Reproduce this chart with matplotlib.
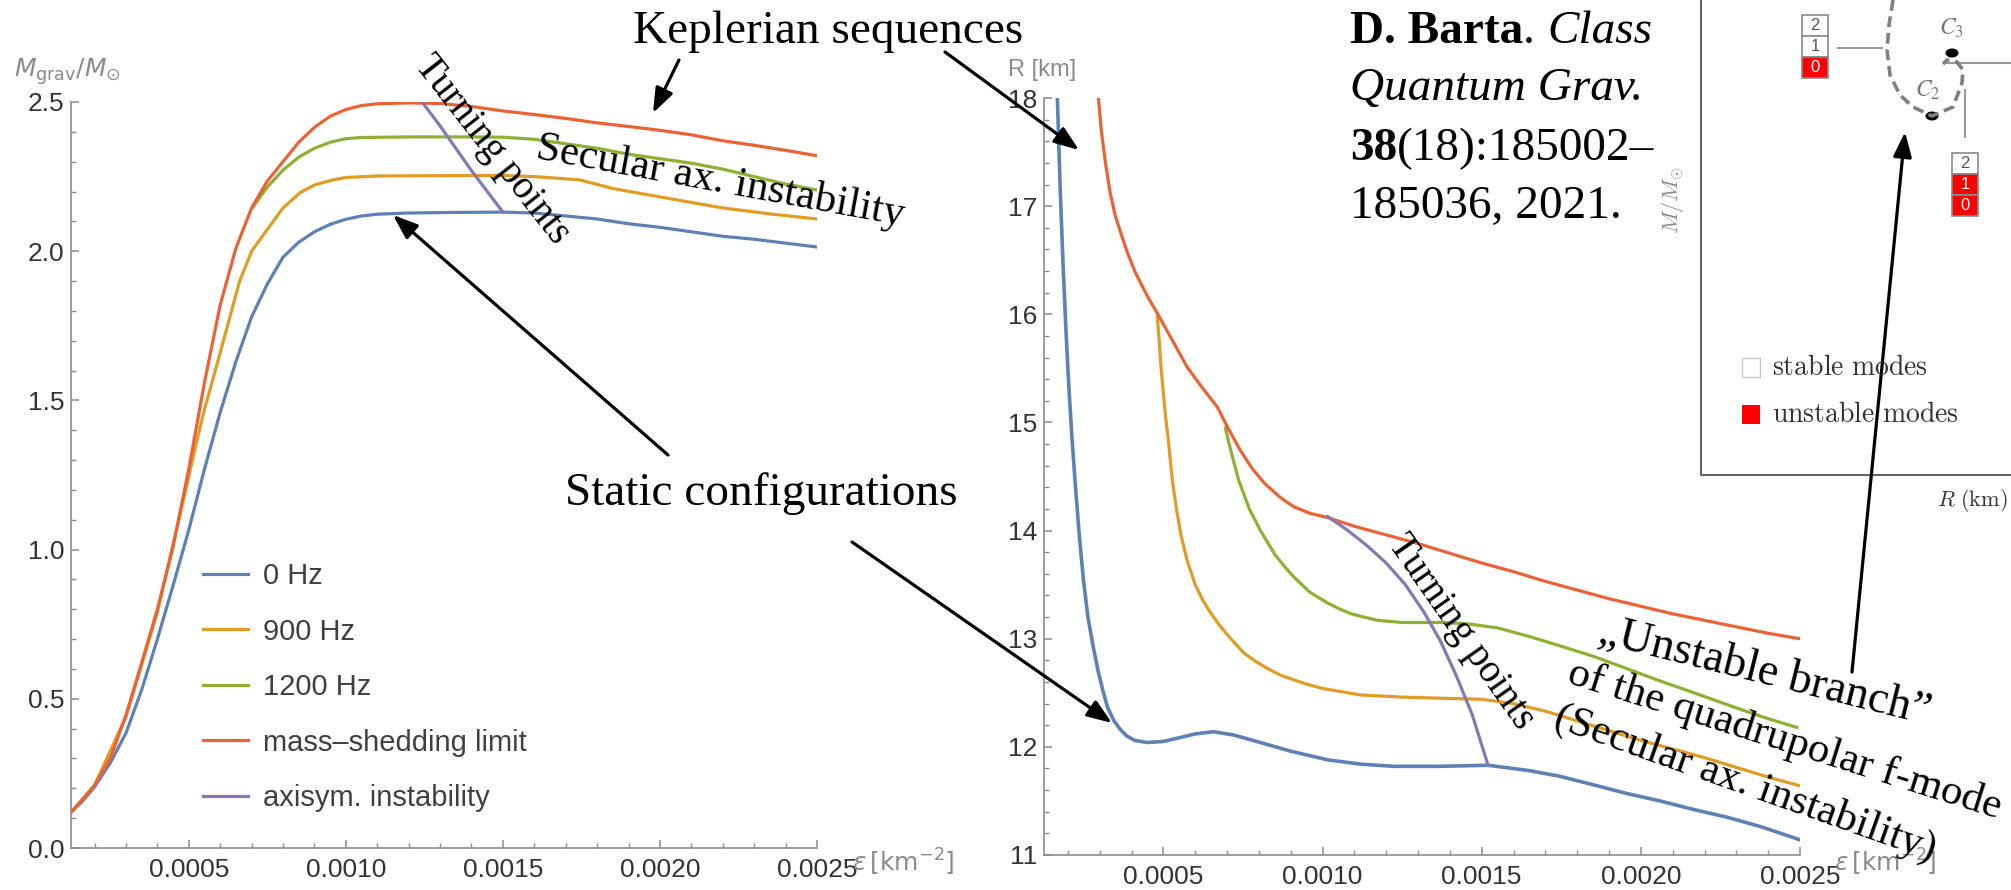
import numpy as np
import matplotlib.pyplot as plt
from matplotlib.ticker import MultipleLocator, FormatStrFormatter
from matplotlib.patches import Rectangle, Ellipse

plt.rcParams['font.family'] = ['Liberation Sans', 'DejaVu Sans']

### data (epsilon in 1e-3 km^-2)

# left panel : M_grav / M_sun
eps_m_0 = [0.125, 0.16, 0.20, 0.25, 0.30, 0.35, 0.40, 0.45, 0.50, 0.55, 0.60, 0.65, 0.70, 0.75,
           0.80, 0.85, 0.90, 0.95, 1.00, 1.05, 1.10, 1.20, 1.35, 1.50, 1.60, 1.70, 1.80, 1.90,
           2.00, 2.10, 2.20, 2.30, 2.40, 2.50]
m_0 = [0.12, 0.155, 0.205, 0.285, 0.385, 0.53, 0.70, 0.88, 1.066, 1.27, 1.46, 1.63, 1.78, 1.89,
       1.98, 2.03, 2.065, 2.09, 2.107, 2.118, 2.124, 2.128, 2.13, 2.131, 2.128, 2.118, 2.108, 2.092,
       2.08, 2.065, 2.05, 2.04, 2.027, 2.014]

eps_m_900 = [0.125, 0.20, 0.30, 0.40, 0.50, 0.52, 0.55, 0.576, 0.60, 0.662, 0.70, 0.748, 0.80,
             0.853, 0.90, 0.959, 1.00, 1.10, 1.30, 1.50, 1.60, 1.745, 1.85, 2.064, 2.20, 2.35, 2.50]
m_900 = [0.12, 0.21, 0.44, 0.79, 1.245, 1.34, 1.47, 1.568, 1.66, 1.90, 2.0, 2.07, 2.145,
         2.195, 2.222, 2.239, 2.247, 2.252, 2.253, 2.254, 2.25, 2.239, 2.21, 2.17, 2.145, 2.125, 2.108]

eps_m_1200 = [0.704, 0.75, 0.80, 0.85, 0.90, 0.95, 1.00, 1.05, 1.20, 1.40, 1.50, 1.60, 1.70, 1.80,
              1.90, 2.00, 2.10, 2.20, 2.30, 2.40, 2.50]
m_1200 = [2.148, 2.215, 2.272, 2.315, 2.345, 2.365, 2.377, 2.381, 2.383, 2.383, 2.382, 2.375, 2.36,
          2.345, 2.325, 2.31, 2.295, 2.275, 2.25, 2.225, 2.205]

eps_m_kep = [0.125, 0.16, 0.20, 0.25, 0.30, 0.35, 0.40, 0.45, 0.50, 0.55, 0.60, 0.65, 0.70, 0.75,
             0.80, 0.85, 0.90, 0.95, 1.00, 1.05, 1.10, 1.20, 1.30, 1.40, 1.50, 1.60, 1.70, 1.80,
             1.90, 2.00, 2.10, 2.20, 2.30, 2.40, 2.50]
m_kep = [0.12, 0.16, 0.21, 0.30, 0.445, 0.62, 0.80, 1.01, 1.27, 1.56, 1.82, 2.01, 2.145, 2.235,
         2.30, 2.365, 2.415, 2.452, 2.475, 2.488, 2.494, 2.497, 2.495, 2.485, 2.47, 2.458, 2.445, 2.43,
         2.418, 2.405, 2.39, 2.37, 2.355, 2.338, 2.32]

eps_m_turn = [1.245, 1.30, 1.40, 1.50]
m_turn = [2.497, 2.42, 2.27, 2.131]

# right panel : R [km]
eps_r_0 = [0.167, 0.176, 0.185, 0.194, 0.203, 0.213, 0.224, 0.236, 0.249, 0.263, 0.28, 0.295, 0.31,
           0.324, 0.345, 0.365, 0.385, 0.41, 0.45, 0.50, 0.544, 0.60, 0.657, 0.72, 0.805, 0.90,
           1.016, 1.12, 1.223, 1.37, 1.52, 1.65, 1.742, 1.85, 1.954, 2.06, 2.167, 2.27, 2.379,
           2.45, 2.50]
r_0 = [18.0, 17.15, 16.45, 15.85, 15.33, 14.85, 14.40, 13.95, 13.54, 13.2, 12.92, 12.70, 12.52,
       12.37, 12.24, 12.16, 12.10, 12.06, 12.04, 12.05, 12.08, 12.12, 12.14, 12.11, 12.04, 11.96,
       11.88, 11.84, 11.82, 11.82, 11.83, 11.78, 11.73, 11.65, 11.57, 11.50, 11.42, 11.35, 11.26,
       11.19, 11.14]

eps_r_900 = [0.481, 0.487, 0.493, 0.50, 0.507, 0.515, 0.528, 0.54, 0.555, 0.575, 0.60, 0.625,
             0.648, 0.675, 0.70, 0.752, 0.79, 0.83, 0.87, 0.91, 0.95, 1.00, 1.12, 1.25, 1.37, 1.50,
             1.60, 1.70, 1.80, 1.90, 2.0, 2.1, 2.2, 2.3, 2.4, 2.5]
r_900 = [15.98, 15.75, 15.5, 15.27, 15.05, 14.85, 14.47, 14.22, 13.96, 13.72, 13.50, 13.35,
         13.24, 13.13, 13.04, 12.87, 12.79, 12.72, 12.66, 12.62, 12.58, 12.54, 12.48, 12.46, 12.45,
         12.44, 12.40, 12.33, 12.24, 12.15, 12.06, 11.98, 11.90, 11.81, 11.72, 11.64]

eps_r_1200 = [0.695, 0.705, 0.72, 0.736, 0.755, 0.77, 0.805, 0.85, 0.88, 0.91, 0.96, 1.016, 1.05,
              1.09, 1.13, 1.173, 1.25, 1.37, 1.45, 1.55, 1.65, 1.75, 1.848, 1.95, 2.05, 2.167, 2.30,
              2.40, 2.49]
r_1200 = [14.95, 14.82, 14.65, 14.47, 14.32, 14.2, 14.0, 13.78, 13.67, 13.57, 13.43, 13.33, 13.28,
          13.23, 13.20, 13.17, 13.15, 13.15, 13.14, 13.10, 13.02, 12.93, 12.84, 12.73, 12.62, 12.50,
          12.36, 12.26, 12.18]

eps_r_kep = [0.296, 0.305, 0.318, 0.333, 0.35, 0.37, 0.387, 0.41, 0.43, 0.455, 0.481, 0.53, 0.575,
             0.62, 0.67, 0.701, 0.74, 0.78, 0.82, 0.87, 0.91, 0.96, 1.016, 1.10, 1.20, 1.30, 1.40,
             1.50, 1.60, 1.70, 1.80, 1.90, 2.0, 2.1, 2.2, 2.3, 2.4, 2.5]
r_kep = [18.0, 17.7, 17.4, 17.12, 16.9, 16.72, 16.57, 16.40, 16.28, 16.14, 16.01, 15.75, 15.51,
         15.33, 15.14, 14.96, 14.75, 14.57, 14.43, 14.30, 14.22, 14.16, 14.12, 14.04, 13.96, 13.88,
         13.79, 13.70, 13.62, 13.53, 13.45, 13.37, 13.30, 13.23, 13.17, 13.11, 13.05, 13.0]

eps_r_turn = [1.016, 1.08, 1.14, 1.20, 1.26, 1.32, 1.37, 1.42, 1.47, 1.52]
r_turn = [14.13, 14.0, 13.86, 13.70, 13.50, 13.24, 12.98, 12.66, 12.30, 11.83]

labels = ['0 Hz', '900 Hz', '1200 Hz', 'mass\u2013shedding limit', 'axisym. instability']
colors = ['#5e81b5', '#e19c24', '#8fb032', '#eb6235', '#8778b3']

# inset (picture of the mode diagram), pixel coords
stack_x = [1802, 1952]
stack_top = [15, 153]
stack_unstable = [[False, False, True], [False, True, True]]
loop_x = [1893, 1889, 1887, 1890, 1900, 1913, 1932, 1953, 1962, 1963, 1957, 1947, 1943]
loop_y = [0, 25, 50, 75, 95, 107, 116, 107, 83, 70, 62, 60, 64]
dots = {'C_2': (1932, 116, 1928, 90), 'C_3': (1952, 53, 1951, 28)}

fig = plt.figure(figsize=(20.11, 8.9), dpi=100)
W, H = 2011.0, 890.0


def style(ax):
    for s in ['top', 'right']:
        ax.spines[s].set_visible(False)
    for s in ['left', 'bottom']:
        ax.spines[s].set_color('#8c8c8c')
        ax.spines[s].set_linewidth(1.2)
    ax.tick_params(which='both', direction='in', colors='#8c8c8c', labelcolor='#333333', labelsize=19)
    ax.tick_params(which='major', length=6, width=1.1)
    ax.tick_params(which='minor', length=3.5, width=1.0)
    ax.tick_params(axis='x', pad=7)
    ax.tick_params(axis='y', pad=5)
    ax.xaxis.set_major_locator(MultipleLocator(0.0005))
    ax.xaxis.set_minor_locator(MultipleLocator(0.0001))
    ax.xaxis.set_major_formatter(FormatStrFormatter('%.4f'))
    ax.set_xlim(0.000125, 0.0025)


ax1 = fig.add_axes([71 / W, 1 - 848 / H, 746 / W, 746 / H])
style(ax1)
ax1.set_ylim(0, 2.5)
ax1.yaxis.set_major_locator(MultipleLocator(0.5))
ax1.yaxis.set_minor_locator(MultipleLocator(0.1))
ax1.yaxis.set_major_formatter(FormatStrFormatter('%.1f'))

lw = 2.3
e = lambda v: np.array(v) * 1e-3
ax1.plot(e(eps_m_0), m_0, c=colors[0], lw=lw, label=labels[0])
ax1.plot(e(eps_m_900), m_900, c=colors[1], lw=lw, label=labels[1])
ax1.plot(e(eps_m_1200), m_1200, c=colors[2], lw=lw, label=labels[2])
ax1.plot(e(eps_m_kep), m_kep, c=colors[3], lw=lw, label=labels[3])
ax1.plot(e(eps_m_turn), m_turn, c=colors[4], lw=lw, label=labels[4])

leg = ax1.legend(loc='upper left', bbox_to_anchor=(0.177, 0.383), frameon=False, fontsize=21,
                 handlelength=1.55, handletextpad=0.5, labelspacing=0.94, borderpad=0, borderaxespad=0)
for t in leg.get_texts():
    t.set_color('#404040')

ax2 = fig.add_axes([1044 / W, 1 - 855 / H, 756 / W, 757 / H])
style(ax2)
ax2.set_ylim(11, 18)
ax2.yaxis.set_major_locator(MultipleLocator(1))
ax2.yaxis.set_minor_locator(MultipleLocator(0.2))

ax2.plot(e(eps_r_0), r_0, c=colors[0], lw=lw + 0.3)
ax2.plot(e(eps_r_900), r_900, c=colors[1], lw=lw)
ax2.plot(e(eps_r_1200), r_1200, c=colors[2], lw=lw)
ax2.plot(e(eps_r_kep), r_kep, c=colors[3], lw=lw)
ax2.plot(e(eps_r_turn), r_turn, c=colors[4], lw=lw)

### overlay in pixel coords
ov = fig.add_axes([0, 0, 1, 1])
ov.set_xlim(0, W)
ov.set_ylim(H, 0)
ov.axis('off')
ov.patch.set_visible(False)

gray = '#8a8a8a'
ov.text(14, 72, r'$M_{\rm grav}/M_{\odot}$', color=gray, fontsize=18, va='center', math_fontfamily='dejavusans')
ov.text(1008, 70, 'R [km]', color=gray, fontsize=17, va='center')
for x0 in [852, 1834]:
    ov.text(x0, 862, r'$\epsilon\,[\mathrm{km}^{-2}]$', color=gray, fontsize=18, va='center',
            math_fontfamily='dejavusans')

serif = 'Liberation Serif'
ov.text(633, 43, 'Keplerian sequences', family=serif, fontsize=34, va='baseline')
ov.text(565, 505, 'Static configurations', family=serif, fontsize=34, va='baseline')
ov.text(720, 182, 'Secular ax. instability', family=serif, fontsize=31, rotation=-10.4,
        rotation_mode='anchor', ha='center', va='center')
ov.text(492, 150, 'Turning points', family=serif, fontsize=28, rotation=-52,
        rotation_mode='anchor', ha='center', va='center')
ov.text(1461, 632, 'Turning points', family=serif, fontsize=28, rotation=-55,
        rotation_mode='anchor', ha='center', va='center')
ov.text(1765, 672, '\u201eUnstable branch\u201d', family=serif, fontsize=33, rotation=-14,
        rotation_mode='anchor', ha='center', va='center')
ov.text(1785, 740, 'of the quadrupolar f-mode', family=serif, fontsize=31, rotation=-17.5,
        rotation_mode='anchor', ha='center', va='center')
ov.text(1745, 784, '(Secular ax. instability)', family=serif, fontsize=31, rotation=-19.5,
        rotation_mode='anchor', ha='center', va='center')

# citation block with mixed styles
rend = fig.canvas.get_renderer()
cite = [(43, [('D. Barta', 'bold', 'normal'), ('.', 'normal', 'normal'), (' ', '', ''),
              ('Class', 'normal', 'italic')]),
        (100, [('Quantum Grav.', 'normal', 'italic')]),
        (160, [('38', 'bold', 'normal'), ('(18):185002\u2013', 'normal', 'normal')]),
        (218, [('185036, 2021.', 'normal', 'normal')])]
for yb, parts in cite:
    x = 1350
    for s, w, st in parts:
        if s == ' ':
            x += 0.25 * 34 * 100 / 72
            continue
        t = ov.text(x, yb, s, family=serif, fontsize=34, fontweight=w, fontstyle=st, va='baseline')
        x += t.get_window_extent(renderer=rend).width

arrow = dict(arrowstyle='-|>,head_length=0.75,head_width=0.28', color='black', lw=2.3,
             shrinkA=0, shrinkB=0, mutation_scale=20)
for tail, head in [((679, 60), (653, 113)), ((945, 52), (1079, 150)), ((668, 455), (393, 215)),
                   ((852, 542), (1112, 723)), ((1852, 672), (1905, 132))]:
    ov.annotate('', xy=head, xytext=tail, arrowprops=arrow)

# inset frame
ov.plot([1701, 1701, W], [0, 475, 475], c='#555555', lw=1.3)
ov.text(2008, 500, r'$R\ \mathrm{(km)}$', fontsize=16, ha='right', va='center', color='#333333',
        math_fontfamily='cm')
ov.text(1673, 200, r'$M/M_{\odot}$', fontsize=16, rotation=90, ha='center', va='center', color=gray,
        math_fontfamily='cm')
for sx, st, flags in zip(stack_x, stack_top, stack_unstable):
    for k, lab in enumerate(['2', '1', '0']):
        red = flags[k]
        ov.add_patch(Rectangle((sx, st + 21 * k), 26, 21, fc='#ff0000' if red else 'white',
                               ec='#8a8a8a', lw=1.2))
        ov.text(sx + 13, st + 21 * k + 10.5, lab, fontsize=12, ha='center', va='center',
                color='white' if red else '#555555')
ov.plot([1838, 1882], [48, 48], c='#999999', lw=1.5)
ov.plot([1947, W], [63, 63], c='#999999', lw=1.5)
ov.plot([1965, 1965], [90, 137], c='#999999', lw=1.5)
ov.plot(loop_x, loop_y, c='#808080', lw=2.6, ls=(0, (3, 1.6)))
for name, (dx, dy, tx, ty) in dots.items():
    ov.add_patch(Ellipse((dx, dy), 13, 9, fc='black', ec='none'))
    ov.text(tx, ty, '$' + name + '$', fontsize=17, ha='center', va='center', color='#777777',
            math_fontfamily='stix')
ov.add_patch(Rectangle((1742, 358), 18, 19, fc='white', ec='#c8c8c8', lw=1))
ov.add_patch(Rectangle((1742, 405), 18, 19, fc='#ff0000', ec='none'))
ov.text(1772, 368, r'$\mathrm{stable\ modes}$', fontsize=20, va='center', color='#333333', math_fontfamily='cm')
ov.text(1772, 415, r'$\mathrm{unstable\ modes}$', fontsize=20, va='center', color='#333333', math_fontfamily='cm')

fig.savefig('out.png', dpi=100)
